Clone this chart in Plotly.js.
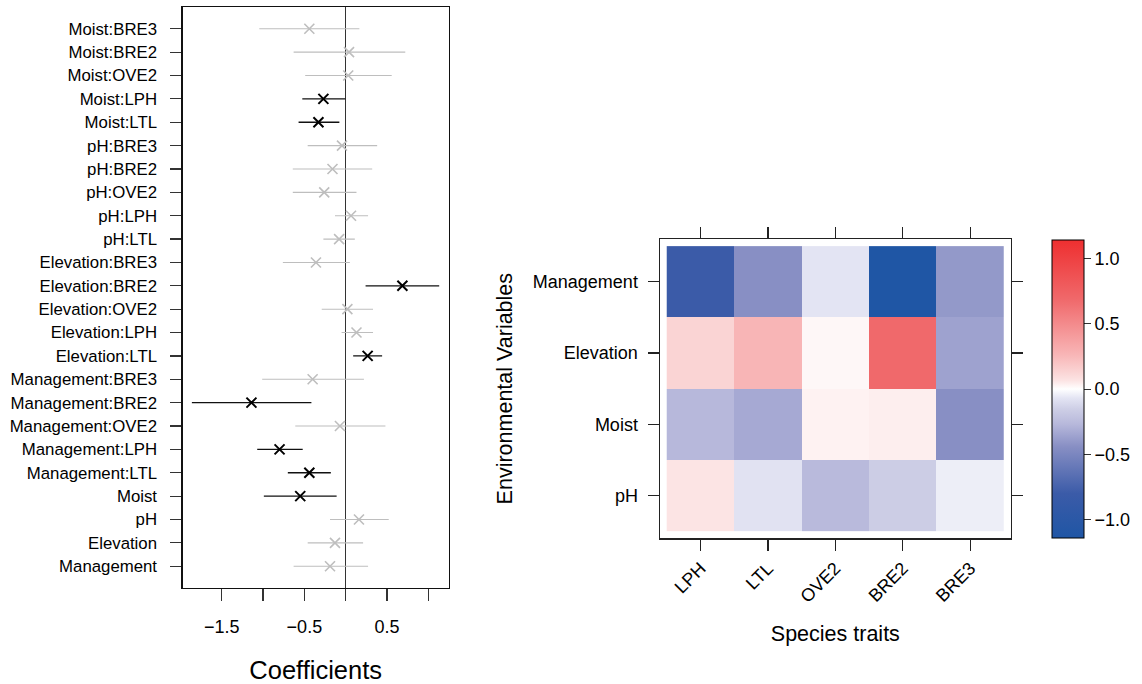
<!DOCTYPE html>
<html>
<head>
<meta charset="utf-8">
<script src="https://cdn.plot.ly/plotly-3.0.1.min.js"></script>
<style>html,body{margin:0;padding:0;background:#fff;}#chart{width:1142px;height:684px;}</style>
</head>
<body>
<div id="chart"></div>
<script>
// ---- Coefficient plot data (bottom to top) ----
const terms = ["Management","Elevation","pH","Moist",
  "Management:LTL","Management:LPH","Management:OVE2","Management:BRE2","Management:BRE3",
  "Elevation:LTL","Elevation:LPH","Elevation:OVE2","Elevation:BRE2","Elevation:BRE3",
  "pH:LTL","pH:LPH","pH:OVE2","pH:BRE2","pH:BRE3",
  "Moist:LTL","Moist:LPH","Moist:OVE2","Moist:BRE2","Moist:BRE3"];
const estimate = [-0.19,-0.13,0.16,-0.55,
  -0.44,-0.80,-0.07,-1.14,-0.40,
  0.265,0.13,0.02,0.685,-0.36,
  -0.08,0.064,-0.26,-0.16,-0.045,
  -0.33,-0.27,0.03,0.04,-0.44];
const lower = [-0.63,-0.46,-0.19,-0.99,
  -0.70,-1.07,-0.61,-1.86,-1.01,
  0.09,-0.05,-0.29,0.24,-0.76,
  -0.27,-0.13,-0.64,-0.64,-0.46,
  -0.57,-0.525,-0.49,-0.63,-1.045];
const upper = [0.27,0.21,0.52,-0.11,
  -0.18,-0.52,0.48,-0.415,0.22,
  0.44,0.33,0.33,1.13,0.05,
  0.11,0.27,0.13,0.32,0.38,
  -0.077,-0.005,0.556,0.72,0.165];
const coefTicks = [-1.5,-1,-0.5,0,0.5,1];
const coefTickText = ["\u22121.5","","\u22120.5","","0.5",""];

// ---- Heatmap categories ----
const traits = ["LPH","LTL","OVE2","BRE2","BRE3"];
const envVars = ["pH","Moist","Elevation","Management"];
const cbTicks = [-1,-0.5,0,0.5,1];
const cbTickText = ["\u22121.0","\u22120.5","0.0","0.5","1.0"];

// build significance groups
function subset(sig){
  const y=[],x=[],ep=[],em=[];
  terms.forEach((t,i)=>{
    const s = (lower[i]>0 || upper[i]<0);
    if(s===sig){ y.push(t); x.push(estimate[i]); ep.push(upper[i]-estimate[i]); em.push(estimate[i]-lower[i]); }
  });
  return {y,x,ep,em};
}
const ns = subset(false), sg = subset(true);

// heatmap z from interaction coefficients
const z = envVars.map(v => traits.map(t => estimate[terms.indexOf(v+":"+t)]));
const zmax = Math.max(...estimate.map(Math.abs).filter((a,i)=>terms[i].includes(":")));

const font = "Liberation Sans, Arial, Helvetica, sans-serif";
const gray = "#bebebe";

const traces = [
  {type:"scatter", mode:"markers", x:ns.x, y:ns.y, xaxis:"x", yaxis:"y",
   marker:{symbol:"x-thin-open", size:10, color:gray, line:{color:gray, width:1.6}},
   error_x:{type:"data", symmetric:false, array:ns.ep, arrayminus:ns.em, width:0, color:gray, thickness:1.1},
   showlegend:false, hoverinfo:"x+y"},
  {type:"scatter", mode:"markers", x:sg.x, y:sg.y, xaxis:"x", yaxis:"y",
   marker:{symbol:"x-thin-open", size:10, color:"#000", line:{color:"#000", width:2}},
   error_x:{type:"data", symmetric:false, array:sg.ep, arrayminus:sg.em, width:0, color:"#111", thickness:1.3},
   showlegend:false, hoverinfo:"x+y"},
  {type:"heatmap", x:traits, y:envVars, z:z, xaxis:"x2", yaxis:"y2",
   zmin:-zmax, zmax:zmax,
   colorscale:[[0,"#1f56a5"],[0.149,"#3b5ba8"],[0.307,"#888fc4"],[0.382,"#b7b8db"],[0.43,"#cccde5"],
               [0.469,"#e3e4f3"],[0.5,"#ffffff"],[0.528,"#fce4e4"],[0.557,"#fad4d4"],[0.616,"#f8b5b6"],
               [0.8,"#f0696b"],[1,"#ee2f30"]],
   colorbar:{x:1052/1142, xanchor:"left", xpad:0, y:1-389/684, yanchor:"middle", ypad:0,
     len:298, lenmode:"pixels", thickness:32, outlinewidth:1, outlinecolor:"#000",
     ticks:"outside", ticklen:7, tickcolor:"#333", tickvals:cbTicks, ticktext:cbTickText,
     tickfont:{family:font, size:18, color:"#000"}},
   hoverinfo:"x+y+z"},
  // empty traces so the mirrored tick axes (top / right of heatmap) are drawn
  {type:"scatter", mode:"markers", x:[], y:[], xaxis:"x3", yaxis:"y2", showlegend:false, hoverinfo:"skip"},
  {type:"scatter", mode:"markers", x:[], y:[], xaxis:"x2", yaxis:"y3", showlegend:false, hoverinfo:"skip"}
];

const hx = [660/1142, 1010.7/1142];
const hy = [1-538.3/684, 1-239/684];

const layout = {
  width:1142, height:684,
  margin:{l:0,r:0,t:0,b:0},
  paper_bgcolor:"#fff", plot_bgcolor:"rgba(0,0,0,0)",
  font:{family:font, color:"#000"},
  showlegend:false,
  xaxis:{domain:[182.7/1142, 448.7/1142], range:[-1.971,1.245], anchor:"y",
    showgrid:false, zeroline:true, zerolinecolor:"#333", zerolinewidth:1.2,
    showline:true, mirror:true, linecolor:"#111", linewidth:1.3,
    ticks:"outside", ticklen:12, tickcolor:"#333", tickwidth:1.2,
    tickvals:coefTicks, ticktext:coefTickText, ticklabelstandoff:10,
    tickfont:{family:font, size:18},
    title:{text:"Coefficients", font:{family:font, size:25.5}, standoff:30}},
  yaxis:{domain:[1-587.7/684, 1-7.3/684], range:[-0.92,23.92], anchor:"x",
    type:"category", categoryorder:"array", categoryarray:terms,
    showgrid:false, zeroline:false, showline:true, mirror:true, linecolor:"#111", linewidth:1.3,
    ticks:"outside", ticklen:11, tickcolor:"#333", tickwidth:1.2, ticklabelstandoff:10,
    tickfont:{family:font, size:16.8}},
  xaxis2:{domain:hx, range:[-0.6,4.6], anchor:"y2",
    type:"category", categoryorder:"array", categoryarray:traits, showgrid:false, zeroline:false,
    showline:true, mirror:true, linecolor:"#222", linewidth:1.5,
    ticks:"outside", ticklen:11, tickcolor:"#222", tickwidth:1.2,
    tickangle:-45, ticklabelstandoff:0, tickfont:{family:font, size:18},
    title:{text:"Species traits", font:{family:font, size:21.5}, standoff:20}},
  yaxis2:{domain:hy, range:[-0.6,3.6], anchor:"x2",
    type:"category", categoryorder:"array", categoryarray:envVars, showgrid:false, zeroline:false,
    showline:true, mirror:true, linecolor:"#222", linewidth:1.5,
    ticks:"outside", ticklen:11, tickcolor:"#222", tickwidth:1.2,
    ticklabelstandoff:6, tickfont:{family:font, size:18},
    title:{text:"Environmental Variables", font:{family:font, size:21.5}, standoff:14}},
  xaxis3:{overlaying:"x2", side:"top", anchor:"y2", range:[-0.6,4.6],
    type:"category", categoryorder:"array", categoryarray:traits,
    showgrid:false, zeroline:false, showline:false, showticklabels:false,
    ticks:"outside", ticklen:11, tickcolor:"#222", tickwidth:1.2},
  yaxis3:{overlaying:"y2", side:"right", anchor:"x2", range:[-0.6,3.6],
    type:"category", categoryorder:"array", categoryarray:envVars,
    showgrid:false, zeroline:false, showline:false, showticklabels:false,
    ticks:"outside", ticklen:11, tickcolor:"#222", tickwidth:1.2}
};

Plotly.newPlot("chart", traces, layout, {displayModeBar:false, staticPlot:true});
</script>
</body>
</html>
